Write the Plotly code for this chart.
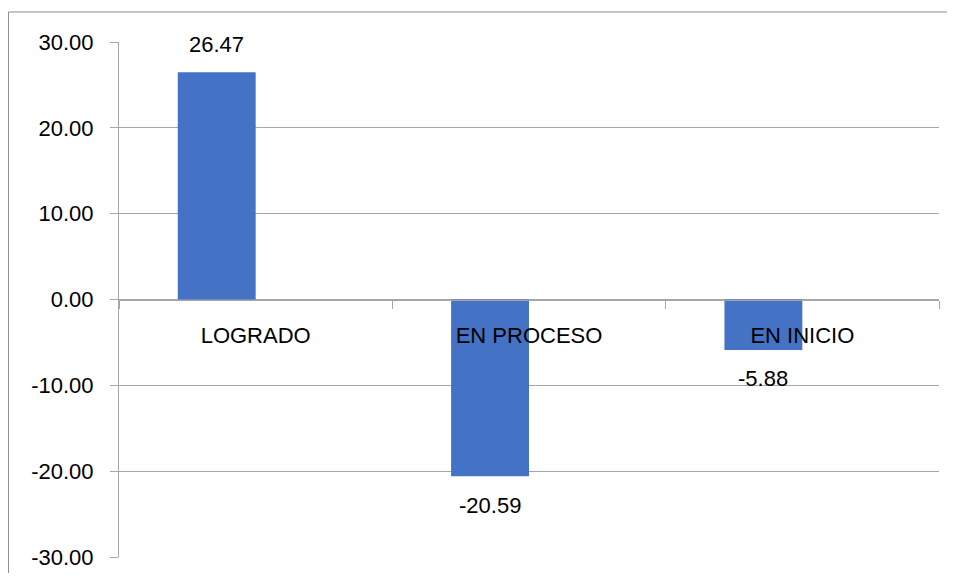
import plotly.graph_objects as go

categories = ["LOGRADO", "EN PROCESO", "EN INICIO"]
values = [26.47, -20.59, -5.88]
y_ticks = [-30, -20, -10, 0, 10, 20, 30]
y_tick_labels = ["-30.00", "-20.00", "-10.00", "0.00", "10.00", "20.00", "30.00"]

FONT = "Liberation Sans"
GRID = "#a6a6a6"
BAR_W = 0.285          # bar width in category units
PLOT_W = 820           # plot area width in px
CAT_PX = PLOT_W / len(categories)

fig = go.Figure()
fig.add_trace(go.Bar(x=categories, y=values, width=BAR_W, offset=-BAR_W,
                     marker=dict(color="#4472C4", line=dict(width=0)),
                     showlegend=False, hoverinfo="skip"))

for c, v in zip(categories, values):
    fig.add_annotation(x=c, y=v, text=f"{v:.2f}", showarrow=False,
                       xshift=-BAR_W / 2 * CAT_PX,
                       yshift=28 if v > 0 else -29,
                       font=dict(family=FONT, size=22, color="#000000"))

# outer chart border (top & left visible)
fig.add_shape(type="line", xref="paper", yref="paper", x0=-0.1348, x1=1.1, y0=1.0583, y1=1.0583,
              line=dict(color="#8c8c8c", width=1))
fig.add_shape(type="line", xref="paper", yref="paper", x0=-0.1348, x1=-0.1348, y0=-0.1, y1=1.0583,
              line=dict(color="#8c8c8c", width=1))

fig.update_layout(
    width=939, height=565,
    margin=dict(l=111, r=8, t=34, b=16),
    paper_bgcolor="white", plot_bgcolor="white",
    font=dict(family=FONT, color="#000000"),
    xaxis=dict(
        type="category", anchor="free", position=0.5, automargin=False,
        showline=True, linecolor=GRID, linewidth=1,
        ticks="outside", ticklen=8, tickcolor=GRID, tickson="boundaries",
        showgrid=False, zeroline=False,
        tickfont=dict(family=FONT, size=22, color="#000000"),
        ticklabelstandoff=16,
    ),
    yaxis=dict(
        range=[-30, 30], tickvals=y_ticks, ticktext=y_tick_labels, automargin=False,
        showline=True, linecolor=GRID, linewidth=1,
        ticks="outside", ticklen=8, tickcolor=GRID,
        showgrid=True, gridcolor=GRID, gridwidth=1,
        zeroline=False,
        tickfont=dict(family=FONT, size=22, color="#000000"),
        ticklabelstandoff=12,
    ),
)

fig.write_html("out.html")
